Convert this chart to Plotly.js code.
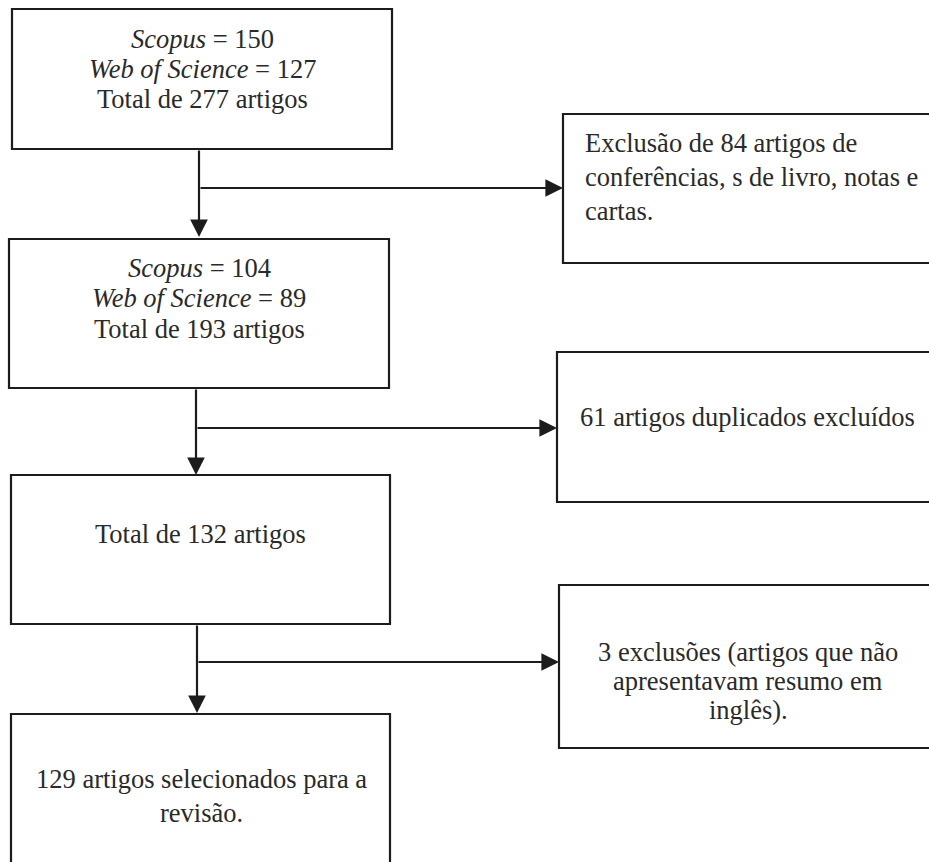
<!DOCTYPE html>
<html>
<head>
<meta charset="utf-8">
<script src="https://cdn.plot.ly/plotly-3.0.1.min.js"></script>
<style>
  html, body { margin: 0; padding: 0; background: #ffffff; }
  #chart { width: 929px; height: 862px; }
</style>
</head>
<body>
<div id="chart"></div>
<script>
// ---- Data (content of the flow diagram) ----
const scopusCounts = [150, 104];
const wosCounts = [127, 89];
const stageTotals = [277, 193, 132];
const selectedTotal = 129;
const excludedCounts = [84, 61, 3];

// text of each stage box, line by line
const stageLines = [
  ['<i>Scopus</i> = ' + scopusCounts[0], '<i>Web of Science</i> = ' + wosCounts[0], 'Total de ' + stageTotals[0] + ' artigos'],
  ['<i>Scopus</i> = ' + scopusCounts[1], '<i>Web of Science</i> = ' + wosCounts[1], 'Total de ' + stageTotals[1] + ' artigos'],
  ['Total de ' + stageTotals[2] + ' artigos'],
  [selectedTotal + ' artigos selecionados para a', 'revisão.']
];
const exclusionLines = [
  ['Exclusão de ' + excludedCounts[0] + ' artigos de', 'conferências, s de livro, notas e', 'cartas.'],
  [excludedCounts[1] + ' artigos duplicados excluídos'],
  [excludedCounts[2] + ' exclusões (artigos que não', 'apresentavam resumo em', 'inglês).']
];

// ---- Geometry (pixel layout of the diagram) ----
const stageBoxes = [
  {x0: 12, x1: 392, y0: 9,   y1: 149, cx: 202, ly: [39, 69, 99]},
  {x0: 9,  x1: 389, y0: 239, y1: 388, cx: 199, ly: [268, 298, 329]},
  {x0: 11, x1: 390, y0: 475, y1: 624, cx: 200, ly: [534]},
  {x0: 11, x1: 390, y0: 714, y1: 880, cx: 201, ly: [779, 813]}
];
const exclusionBoxes = [
  {x0: 563, x1: 945, y0: 114, y1: 263, tx: 583, align: 'left', ly: [143, 177, 211]},
  {x0: 557, x1: 945, y0: 352, y1: 502, tx: 747, align: 'center', ly: [417]},
  {x0: 559, x1: 945, y0: 585, y1: 748, tx: 748, align: 'center', ly: [652, 681, 710]}
];
const connectors = [
  {x: 199, y0: 149, tip: 237, by: 188, bx: 563},
  {x: 196, y0: 388, tip: 475, by: 428, bx: 557},
  {x: 197, y0: 624, tip: 713, by: 662, bx: 559}
];

const lineColor = '#1c1c1c';
const textColor = '#2a2a2a';
const fontFamily = '"Liberation Serif", "Times New Roman", serif';
const fontSize = 26.5;

const shapes = [];
const annotations = [];

function addBox(b) {
  shapes.push({type: 'rect', xref: 'x', yref: 'y', x0: b.x0, x1: b.x1, y0: b.y0, y1: b.y1,
    line: {color: lineColor, width: 2.2}, fillcolor: 'rgba(0,0,0,0)'});
}
stageBoxes.forEach(addBox);
exclusionBoxes.forEach(addBox);

stageBoxes.forEach((b, i) => {
  stageLines[i].forEach((t, j) => {
    annotations.push({x: b.cx, y: b.ly[j], xref: 'x', yref: 'y', text: t, showarrow: false,
      xanchor: 'center', yanchor: 'middle', font: {family: fontFamily, size: fontSize, color: textColor}});
  });
});
exclusionBoxes.forEach((b, i) => {
  exclusionLines[i].forEach((t, j) => {
    annotations.push({x: b.tx, y: b.ly[j], xref: 'x', yref: 'y', text: t, showarrow: false,
      xanchor: b.align === 'left' ? 'left' : 'center', yanchor: 'middle',
      font: {family: fontFamily, size: fontSize, color: textColor}});
  });
});

connectors.forEach(c => {
  // vertical arrow down to next stage
  annotations.push({x: c.x, y: c.tip, ax: c.x, ay: c.y0, xref: 'x', yref: 'y', axref: 'x', ayref: 'y',
    text: '', showarrow: true, arrowhead: 2, arrowsize: 1.6, arrowwidth: 2.2, arrowcolor: lineColor, standoff: 0});
  // horizontal arrow to exclusion box
  annotations.push({x: c.bx, y: c.by, ax: c.x, ay: c.by, xref: 'x', yref: 'y', axref: 'x', ayref: 'y',
    text: '', showarrow: true, arrowhead: 2, arrowsize: 1.6, arrowwidth: 2.2, arrowcolor: lineColor, standoff: 0});
});

const layout = {
  width: 929, height: 862,
  margin: {l: 0, r: 0, t: 0, b: 0},
  paper_bgcolor: '#ffffff', plot_bgcolor: '#ffffff',
  showlegend: false,
  xaxis: {range: [0, 929], visible: false, fixedrange: true},
  yaxis: {range: [862, 0], visible: false, fixedrange: true},
  shapes: shapes,
  annotations: annotations
};

Plotly.newPlot('chart', [{x: [], y: [], type: 'scatter', mode: 'markers', hoverinfo: 'skip'}], layout,
  {displayModeBar: false, staticPlot: true});
</script>
</body>
</html>
